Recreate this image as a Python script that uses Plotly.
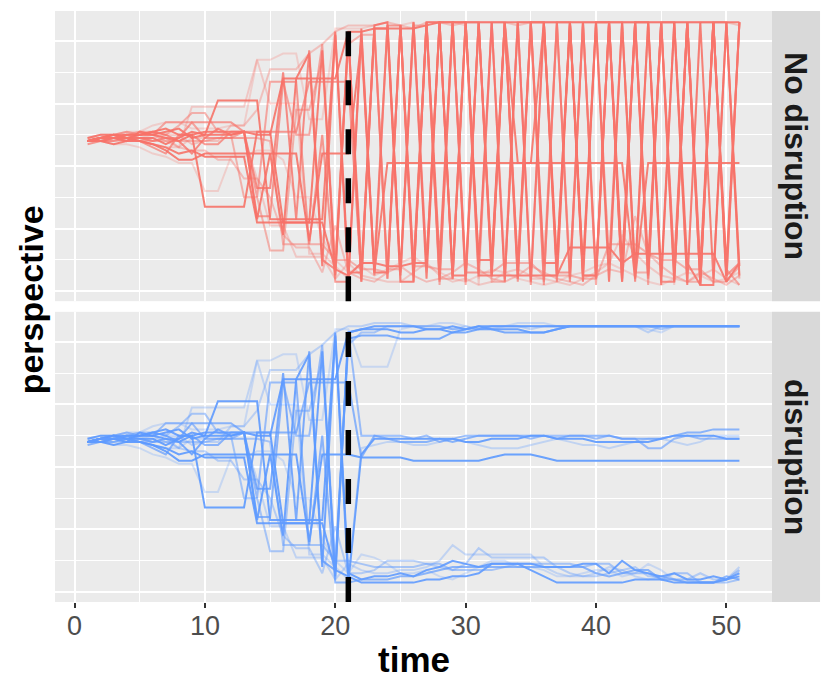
import plotly.graph_objects as go
from plotly.subplots import make_subplots

time = list(range(1, 52))
disruption_time = 21

# trajectories shared by both facets, t = 1..21 (identical before the disruption)
pre = [
    [4.8, 4.9, 5.0, 4.9, 5.0, 5.0, 4.9, 4.8, 5.0, 2.7, 2.7, 2.7, 2.7, 5.1, 5.1, 2.2, 2.2, 2.2, 7.7, 0.5, 8.3],
    [4.8, 4.9, 4.9, 4.8, 5.1, 5.0, 5.1, 5.2, 4.9, 5.0, 6.1, 6.1, 6.1, 6.1, 2.3, 2.3, 2.3, 2.3, 2.3, 8.3, 0.6],
    [4.8, 4.8, 4.9, 4.9, 4.8, 4.7, 4.5, 4.2, 4.2, 4.4, 4.4, 4.4, 4.4, 4.4, 4.4, 4.4, 4.4, 1.6, 4.4, 4.4, 4.4],
    [4.8, 4.9, 5.0, 5.0, 5.0, 5.1, 5.2, 5.0, 5.0, 5.1, 5.1, 5.1, 5.1, 5.0, 5.0, 6.8, 6.8, 6.8, 6.8, 6.8, 8.3],
    [4.8, 4.8, 4.7, 4.8, 4.8, 4.7, 4.6, 4.4, 4.5, 4.3, 4.3, 4.3, 4.3, 2.2, 2.2, 2.2, 2.2, 2.2, 2.2, 0.7, 0.5],
    [4.9, 5.0, 5.0, 4.9, 4.9, 4.9, 4.7, 4.9, 5.1, 5.0, 5.0, 5.0, 5.1, 2.3, 4.4, 1.8, 6.8, 7.6, 0.8, 8.2, 0.3],
    [4.8, 4.9, 4.9, 5.0, 5.0, 5.1, 5.0, 4.8, 4.4, 4.9, 5.2, 5.0, 5.1, 3.3, 3.3, 7.0, 2.3, 7.7, 1.0, 0.7, 8.1],
    [4.7, 4.8, 4.8, 4.9, 4.8, 4.6, 4.4, 5.0, 5.0, 4.7, 4.7, 5.1, 5.1, 2.4, 2.4, 6.7, 6.7, 1.5, 5.0, 0.3, 0.3],
    [4.8, 4.9, 5.0, 5.1, 5.0, 5.0, 5.4, 5.4, 5.4, 4.9, 4.9, 4.9, 5.1, 3.0, 6.7, 6.7, 5.0, 5.0, 7.9, 0.4, 8.3],
    [4.8, 4.8, 4.9, 5.0, 5.1, 5.1, 5.0, 5.3, 5.7, 5.7, 5.1, 5.0, 3.0, 3.0, 1.3, 1.3, 5.8, 5.8, 7.4, 1.0, 7.9],
    [4.9, 4.9, 5.0, 4.9, 4.8, 4.8, 4.9, 4.6, 4.5, 4.5, 4.2, 4.2, 3.6, 3.6, 3.0, 1.8, 1.4, 1.4, 0.6, 2.1, 0.6],
    [4.8, 4.9, 4.9, 4.8, 4.8, 4.9, 5.0, 5.0, 4.7, 4.8, 4.8, 5.3, 5.3, 5.8, 7.1, 7.1, 7.1, 7.6, 7.9, 8.3, 8.5],
    [4.8, 4.8, 4.8, 4.8, 4.9, 5.0, 4.8, 4.6, 5.9, 5.9, 5.9, 5.9, 5.9, 7.4, 6.0, 6.0, 6.0, 1.2, 1.2, 0.8, 0.4],
    [4.8, 4.8, 4.7, 4.7, 4.6, 4.4, 4.3, 4.1, 4.1, 3.2, 3.2, 4.3, 4.3, 4.5, 4.5, 4.2, 3.0, 3.0, 1.7, 1.0, 0.6],
    [4.9, 5.0, 5.0, 5.1, 5.1, 5.3, 5.4, 5.4, 5.2, 5.2, 5.2, 5.3, 5.3, 7.4, 7.4, 7.6, 7.6, 5.5, 5.5, 8.4, 8.4],
    [4.8, 4.8, 4.9, 4.9, 4.9, 4.8, 4.8, 4.8, 4.8, 4.8, 4.9, 4.9, 4.9, 4.9, 4.8, 1.5, 1.5, 1.5, 1.5, 1.0, 1.0],
    [4.8, 4.9, 4.9, 5.0, 4.9, 4.8, 4.9, 4.9, 5.4, 5.4, 5.4, 5.4, 5.1, 5.1, 5.1, 5.1, 5.1, 6.7, 6.7, 6.7, 6.7],
    [4.8, 4.8, 4.9, 4.8, 4.8, 4.7, 4.6, 4.6, 4.9, 4.9, 4.9, 4.9, 4.9, 3.6, 2.1, 2.1, 1.1, 1.1, 1.1, 0.4, 0.9],
]

# t = 22..51, "No disruption" facet
post_none = [
    [0.3, 8.5, 8.6, 0.5, 8.6, 0.4, 8.6, 0.4, 8.6, 0.9, 8.6, 0.3, 8.6, 0.3, 8.6, 0.5, 8.6, 0.6, 8.6, 0.3, 8.6, 0.6, 8.6, 0.5, 8.6, 0.2, 8.6, 0.4, 8.6, 0.5],
    [0.6, 8.4, 8.4, 0.3, 0.3, 8.6, 1.0, 8.6, 8.6, 1.0, 1.0, 8.6, 4.1, 4.1, 8.6, 0.9, 8.6, 0.5, 0.5, 8.6, 0.9, 8.6, 8.6, 0.2, 8.6, 0.9, 0.2, 8.6, 0.8, 8.6],
    [8.0, 0.6, 4.1, 4.1, 4.1, 4.1, 4.1, 4.1, 4.1, 4.1, 4.1, 4.1, 4.1, 4.1, 4.1, 4.1, 4.1, 4.1, 4.1, 4.1, 4.1, 0.4, 4.1, 4.1, 4.1, 4.1, 4.1, 4.1, 4.1, 4.1],
    [8.3, 8.4, 8.4, 8.4, 8.4, 8.5, 8.6, 8.6, 8.6, 8.6, 8.6, 8.6, 8.6, 8.6, 8.6, 8.6, 8.6, 8.6, 8.6, 8.6, 8.6, 8.6, 8.6, 8.6, 8.6, 8.6, 8.6, 8.6, 8.6, 8.6],
    [0.9, 0.9, 0.8, 0.8, 0.9, 0.9, 8.6, 0.5, 0.5, 8.6, 0.5, 0.5, 0.5, 0.5, 0.5, 0.5, 1.4, 1.4, 1.4, 1.4, 0.9, 1.2, 1.2, 1.2, 1.2, 1.2, 1.2, 1.2, 0.3, 0.9],
    [8.4, 0.6, 0.6, 8.5, 0.3, 8.6, 8.6, 0.5, 8.6, 0.5, 0.5, 8.6, 0.4, 8.6, 0.9, 0.9, 8.6, 0.3, 8.6, 8.6, 0.3, 8.6, 0.9, 8.6, 0.3, 8.6, 0.2, 0.2, 8.6, 0.8],
    [0.9, 0.9, 8.5, 0.6, 8.6, 0.9, 8.6, 8.6, 0.3, 8.6, 0.8, 8.6, 0.8, 8.6, 8.6, 0.3, 8.6, 0.8, 8.6, 0.9, 8.6, 0.3, 8.6, 0.3, 0.3, 8.6, 0.8, 8.6, 0.3, 8.6],
    [8.2, 0.5, 8.5, 8.5, 0.8, 8.6, 0.3, 8.6, 0.6, 0.6, 8.6, 0.4, 8.6, 0.2, 8.6, 0.6, 0.6, 8.6, 0.4, 8.6, 0.6, 8.6, 0.4, 8.6, 0.9, 8.6, 0.5, 8.6, 0.5, 0.9],
    [0.3, 8.4, 0.4, 8.5, 0.5, 8.5, 0.2, 8.6, 0.2, 8.6, 0.5, 8.6, 0.7, 8.6, 0.3, 8.6, 0.4, 8.6, 0.2, 8.6, 0.4, 8.6, 0.2, 8.6, 0.5, 8.6, 0.3, 8.6, 0.7, 0.2],
    [8.2, 8.2, 0.7, 0.7, 8.5, 8.5, 0.4, 0.4, 8.6, 8.6, 0.3, 0.3, 8.6, 8.6, 0.8, 8.6, 8.6, 0.5, 0.5, 8.6, 8.6, 0.6, 0.6, 8.6, 8.6, 0.3, 0.3, 8.6, 8.6, 0.4],
    [0.4, 0.3, 0.6, 0.8, 0.5, 0.3, 0.4, 0.6, 0.9, 0.7, 0.4, 0.3, 0.5, 0.8, 0.6, 0.4, 0.3, 0.2, 0.5, 0.7, 0.6, 2.4, 1.2, 0.8, 0.5, 0.3, 0.6, 0.4, 0.2, 0.5],
    [8.5, 8.5, 8.6, 8.5, 8.4, 8.6, 8.6, 8.5, 8.6, 8.6, 8.6, 8.6, 8.5, 8.6, 8.6, 8.6, 8.6, 8.6, 8.6, 8.6, 8.6, 8.6, 8.6, 8.6, 8.6, 8.6, 8.6, 8.6, 8.6, 8.5],
    [8.3, 0.5, 8.5, 0.3, 8.4, 0.6, 8.6, 0.4, 8.5, 0.2, 8.6, 0.8, 8.6, 0.4, 0.4, 8.6, 0.3, 8.6, 0.6, 8.6, 0.3, 8.6, 0.5, 8.6, 0.2, 8.6, 0.6, 8.6, 0.3, 8.6],
    [0.8, 0.5, 0.7, 0.9, 1.1, 0.8, 0.6, 0.4, 0.3, 0.5, 0.7, 0.6, 0.4, 0.3, 0.2, 0.3, 0.5, 0.6, 0.8, 0.9, 0.7, 0.5, 0.3, 0.2, 0.4, 0.6, 0.5, 0.3, 0.4, 0.6],
    [8.4, 8.5, 0.6, 8.5, 8.6, 0.8, 8.6, 8.6, 8.5, 0.4, 8.6, 8.6, 0.5, 8.6, 8.6, 8.6, 0.7, 8.6, 8.6, 0.3, 8.6, 8.6, 0.6, 8.6, 8.6, 0.4, 8.6, 8.6, 0.5, 8.6],
    [0.7, 0.7, 0.6, 8.4, 0.8, 0.8, 0.7, 0.7, 8.6, 0.6, 0.6, 0.9, 0.9, 0.9, 0.5, 0.5, 0.5, 0.4, 0.4, 1.5, 1.5, 1.5, 1.2, 1.0, 1.0, 0.7, 0.7, 0.3, 0.3, 0.8],
    [0.4, 8.4, 0.4, 8.5, 0.6, 8.6, 0.5, 8.6, 0.5, 8.6, 0.6, 8.6, 0.3, 8.6, 0.2, 8.6, 0.3, 8.6, 0.5, 8.6, 0.3, 8.6, 0.5, 8.6, 0.6, 8.6, 0.2, 8.6, 0.5, 8.6],
    [0.5, 0.4, 0.3, 0.3, 0.6, 0.9, 0.5, 0.3, 0.4, 0.2, 0.3, 0.6, 0.7, 0.5, 0.4, 0.3, 0.2, 0.4, 0.6, 0.9, 1.8, 1.2, 0.8, 0.5, 0.4, 0.3, 0.5, 0.7, 0.4, 0.2],
]

# t = 22..51, "disruption" facet
post_disr = [
    [8.4, 8.4, 8.4, 8.3, 8.3, 8.4, 8.4, 8.3, 8.4, 8.5, 8.4, 8.4, 8.4, 8.3, 8.3, 8.4, 8.5, 8.5, 8.5, 8.5, 8.5, 8.5, 8.5, 8.5, 8.5, 8.5, 8.5, 8.5, 8.5, 8.5],
    [0.4, 0.5, 0.5, 0.6, 0.5, 0.7, 0.8, 1.0, 0.9, 0.8, 0.9, 0.9, 0.9, 0.9, 0.8, 0.8, 0.8, 0.9, 0.9, 0.6, 1.0, 0.7, 0.6, 0.5, 0.6, 0.4, 0.4, 0.5, 0.4, 0.6],
    [4.3, 4.3, 4.3, 4.3, 4.2, 4.2, 4.2, 4.2, 4.2, 4.2, 4.3, 4.4, 4.4, 4.4, 4.3, 4.2, 4.2, 4.2, 4.2, 4.2, 4.2, 4.2, 4.2, 4.2, 4.2, 4.2, 4.2, 4.2, 4.2, 4.2],
    [8.4, 8.5, 8.5, 8.5, 8.5, 8.4, 8.4, 8.5, 8.4, 8.5, 8.5, 8.5, 8.5, 8.5, 8.5, 8.5, 8.5, 8.5, 8.5, 8.5, 8.5, 8.5, 8.5, 8.5, 8.5, 8.5, 8.5, 8.5, 8.5, 8.5],
    [0.3, 0.3, 0.3, 0.3, 0.3, 0.4, 0.4, 0.5, 0.5, 0.6, 0.9, 0.9, 0.9, 0.7, 0.5, 0.3, 0.3, 0.3, 0.3, 0.3, 0.3, 0.4, 0.4, 0.4, 0.3, 0.3, 0.3, 0.3, 0.4, 0.5],
    [4.4, 4.9, 4.9, 4.9, 4.9, 4.9, 4.9, 4.9, 4.8, 4.8, 4.9, 4.9, 4.9, 5.0, 5.0, 4.9, 4.9, 4.9, 4.8, 4.8, 4.8, 4.8, 4.8, 4.9, 5.0, 5.0, 5.0, 5.0, 4.9, 4.9],
    [8.2, 8.2, 8.2, 8.1, 8.1, 8.1, 8.1, 8.3, 8.3, 8.4, 8.4, 8.3, 8.3, 8.3, 8.3, 8.4, 8.5, 8.5, 8.5, 8.5, 8.5, 8.5, 8.5, 8.5, 8.5, 8.5, 8.5, 8.5, 8.5, 8.5],
    [0.4, 0.4, 0.4, 0.5, 0.5, 0.6, 0.7, 0.8, 0.8, 0.8, 0.8, 0.8, 0.8, 0.8, 0.8, 0.8, 0.8, 0.8, 0.6, 0.5, 0.6, 0.7, 0.7, 0.4, 0.4, 0.3, 0.3, 0.3, 0.5, 0.4],
    [5.0, 5.0, 5.0, 5.0, 4.9, 5.0, 4.8, 4.9, 5.0, 5.0, 5.0, 5.0, 5.0, 4.9, 5.0, 5.0, 5.0, 5.0, 4.9, 5.0, 4.9, 4.9, 4.6, 4.6, 4.9, 5.0, 4.9, 4.9, 4.9, 4.9],
    [8.3, 8.3, 8.5, 8.5, 8.5, 8.5, 8.5, 8.4, 8.4, 8.4, 8.5, 8.5, 8.5, 8.5, 8.5, 8.5, 8.5, 8.5, 8.5, 8.5, 8.5, 8.5, 8.5, 8.4, 8.5, 8.5, 8.5, 8.5, 8.5, 8.5],
    [0.6, 0.7, 1.0, 1.0, 1.0, 0.9, 0.8, 0.7, 0.9, 1.4, 1.1, 1.1, 1.1, 1.1, 1.1, 0.8, 0.6, 0.5, 0.5, 0.6, 0.7, 0.8, 0.5, 0.5, 0.4, 0.4, 0.6, 0.4, 0.4, 0.7],
    [8.5, 8.6, 8.6, 8.6, 8.5, 8.5, 8.5, 8.4, 8.5, 8.4, 8.5, 8.5, 8.5, 8.4, 8.5, 8.5, 8.5, 8.5, 8.5, 8.5, 8.5, 8.5, 8.3, 8.5, 8.5, 8.5, 8.5, 8.5, 8.5, 8.5],
    [4.6, 4.7, 4.8, 4.8, 4.7, 4.7, 4.8, 4.9, 4.8, 4.7, 4.6, 4.6, 4.6, 4.7, 4.8, 4.9, 4.8, 4.7, 4.7, 4.6, 4.7, 4.8, 4.9, 4.9, 4.8, 4.7, 4.8, 5.0, 5.0, 5.0],
    [1.2, 1.1, 0.9, 0.6, 0.6, 0.7, 0.5, 0.4, 0.6, 0.8, 1.0, 1.0, 0.8, 0.8, 0.7, 0.5, 0.5, 0.6, 0.7, 0.7, 0.5, 0.6, 0.9, 0.7, 0.4, 0.4, 0.3, 0.3, 0.4, 0.7],
    [7.2, 7.2, 7.2, 8.4, 8.5, 8.5, 8.6, 8.6, 8.5, 8.4, 8.4, 8.5, 8.6, 8.6, 8.6, 8.5, 8.5, 8.5, 8.5, 8.5, 8.5, 8.5, 8.4, 8.3, 8.5, 8.5, 8.5, 8.5, 8.5, 8.5],
    [0.9, 0.8, 0.8, 0.8, 0.8, 0.9, 0.9, 0.7, 0.7, 0.7, 0.7, 0.8, 0.9, 0.9, 0.9, 0.9, 0.9, 0.8, 0.9, 0.9, 0.6, 0.6, 0.6, 0.4, 0.6, 0.6, 0.3, 0.3, 0.3, 0.4],
    [4.3, 5.0, 4.9, 4.8, 4.8, 4.8, 4.9, 4.8, 4.9, 5.0, 5.0, 5.0, 5.0, 5.0, 5.0, 4.9, 5.0, 5.0, 5.0, 5.0, 4.9, 4.9, 4.9, 4.9, 5.0, 5.1, 5.1, 5.2, 5.2, 5.2],
    [0.7, 0.6, 0.6, 0.7, 0.7, 0.8, 1.0, 1.5, 1.2, 1.2, 1.2, 1.2, 1.2, 1.2, 0.8, 0.6, 0.5, 0.5, 0.6, 0.8, 0.7, 0.5, 0.4, 0.5, 0.4, 0.3, 0.3, 0.3, 0.4, 0.8],
]

line_alpha = [0.9, 0.9, 0.9, 0.9, 0.9, 0.9, 0.8, 0.7, 0.6, 0.5, 0.4, 0.35, 0.3, 0.25, 0.25, 0.5, 0.7, 0.3]

facets = ["No disruption", "disruption"]
colors = {"No disruption": "#F8766D", "disruption": "#619CFF"}
posts = {"No disruption": post_none, "disruption": post_disr}

fig = make_subplots(rows=2, cols=1, shared_xaxes=True)

for row, facet in enumerate(facets, start=1):
    for i, start in enumerate(pre):
        fig.add_trace(go.Scatter(
            x=time, y=start + posts[facet][i], mode="lines",
            line=dict(color=colors[facet], width=2),
            opacity=line_alpha[i], showlegend=False, hoverinfo="skip"),
            row=row, col=1)
    fig.add_shape(type="line", x0=disruption_time, x1=disruption_time, y0=0, y1=1,
                  xref="x" if row == 1 else "x2",
                  yref="y domain" if row == 1 else "y2 domain",
                  line=dict(color="black", width=5.5, dash="25px,24px"))

grid = dict(showgrid=True, gridcolor="white", zeroline=False, showline=False)
fig.update_xaxes(range=[-1.5, 53.5], tick0=0, dtick=10, gridwidth=1.6,
                 minor=dict(dtick=5, showgrid=True, gridcolor="white", gridwidth=0.8),
                 **grid)
fig.update_xaxes(showticklabels=False, ticks="", row=1, col=1)
fig.update_xaxes(ticks="outside", ticklen=5, tickwidth=1.5, tickcolor="#333333",
                 ticklabelstandoff=-5,
                 tickfont=dict(size=27, color="#4D4D4D"), row=2, col=1)
fig.update_yaxes(range=[-0.32, 8.96], tick0=0, dtick=2, gridwidth=1.6,
                 minor=dict(dtick=1, showgrid=True, gridcolor="white", gridwidth=0.8),
                 showticklabels=False, ticks="", **grid)

# the page body adds an 8px offset, so margins are shifted by that amount
fig.update_layout(
    width=830, height=692,
    margin=dict(l=47, r=66, t=3, b=98),
    plot_bgcolor="#EBEBEB", paper_bgcolor="white",
    font=dict(family="Liberation Sans, Arial, sans-serif"),
    yaxis=dict(domain=[0.509, 1.0]),
    yaxis2=dict(domain=[0.0, 0.491]),
)

# facet strips on the right
for dom, facet in [((0.509, 1.0), "No disruption"), ((0.0, 0.491), "disruption")]:
    fig.add_shape(type="rect", xref="paper", yref="paper", x0=1.0, x1=1.067,
                  y0=dom[0], y1=dom[1], fillcolor="#D9D9D9", line=dict(width=0), layer="below")
    fig.add_annotation(text="<b>%s</b>" % facet, xref="paper", yref="paper",
                       x=1.0335, y=(dom[0] + dom[1]) / 2, xanchor="center", yanchor="middle",
                       showarrow=False, textangle=90,
                       font=dict(size=32, color="#1A1A1A"))

fig.add_annotation(text="<b>time</b>", xref="paper", yref="paper", x=0.5, y=-0.098,
                   xanchor="center", yanchor="middle",
                   showarrow=False, font=dict(size=35, color="black"))
fig.add_annotation(text="<b>perspective</b>", xref="paper", yref="paper", x=-0.033, y=0.511,
                   xanchor="center", yanchor="middle",
                   showarrow=False, textangle=-90, font=dict(size=34, color="black"))

fig.write_html("out.html")
